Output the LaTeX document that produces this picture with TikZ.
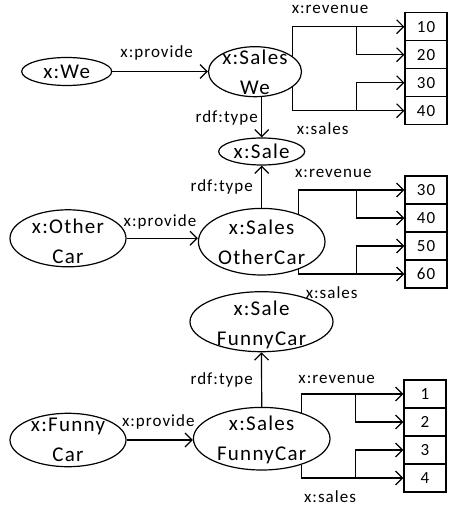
\documentclass[tikz,border=0pt]{standalone}
\usepackage{fontspec}
\setmainfont{Carlito}[LetterSpace=6]
\usetikzlibrary{arrows.meta,shapes.geometric}
\begin{document}
\begin{tikzpicture}[x=1pt,y=-1pt,line width=1.2pt,
  every node/.style={font=\fontsize{17}{20}\selectfont,inner sep=0pt},
  ell/.style={draw,ellipse,inner sep=0pt},
  txt/.style={align=center,font=\fontsize{21}{30}\selectfont},
  val/.style={draw,rectangle,minimum width=42pt,minimum height=28pt},
  arr/.style={-{Straight Barb[length=7pt,width=14pt]}}]
\useasboundingbox (0,0) rectangle (449,508);

% ---- x:We block ----
\node[ell,minimum width=90,minimum height=28] (we) at (66.7,71.5) {};
\node[txt] (wet) at (we) {x:We};
\node[ell,minimum width=93,minimum height=50] (sw) at (255,71.7) {};
\node[txt] (swt) at (255,72.5) {x:Sales\\We};
\node[ell,minimum width=86,minimum height=27] (sale) at (261.7,151.5) {};
\node[txt] (salet) at (sale) {x:Sale};
\node[val] (a1) at (426,26.7) {10};
\node[val] (a2) at (426,54.7) {20};
\node[val] (a3) at (426,82.7) {30};
\node[val] (a4) at (426,110.7) {40};

\draw[arr] (we.east) -- (we.east -| sw.west);
\draw[arr] (sale.north |- sw.south) -- (sale.north);
\draw[arr] (sw.22) |- (a1.west);
\path (a1.west) ++(-48,0) coordinate (ja);
\draw[arr] (ja) |- (a2.west);
\draw[arr] (sw.-22) |- (a4.west);
\path (a4.west) ++(-48,0) coordinate (jb);
\draw[arr] (jb) |- (a3.west);

\node (l1) at (156.7,53.3) {x:provide};
\node (l2) at (226.7,118.3) {rdf:type};
\node (l3) at (330,9.3) {x:revenue};
\node (l4) at (322.7,128.3) {x:sales};

% ---- x:OtherCar block ----
\node[ell,minimum width=116,minimum height=57] (oc) at (68,238.3) {};
\node[txt] (oct) at (68,241.7) {x:Other\\Car};
\node[ell,minimum width=126.6,minimum height=66.6] (so) at (261.7,241.7) {};
\node[txt] (sot) at (261.7,242.5) {x:Sales\\OtherCar};
\node[val] (b1) at (426,190) {30};
\node[val] (b2) at (426,218) {40};
\node[val] (b3) at (426,246) {50};
\node[val] (b4) at (426,274) {60};

\draw[arr] (oc.east) -- (oc.east -| so.west);
\draw[arr] (so.north) -- (sale.south);
\draw[arr] (so.37) |- (b1.west);
\path (b1.west) ++(-48.3,0) coordinate (jc);
\draw[arr] (jc) |- (b2.west);
\draw[arr] (so.-37) |- (b4.west);
\path (b4.west) ++(-48.3,0) coordinate (jd);
\draw[arr] (jd) |- (b3.west);

\node (m1) at (160,221.7) {x:provide};
\node (m2) at (221.7,187.3) {rdf:type};
\node (m3) at (333.3,173.3) {x:revenue};
\node (m4) at (331.7,292.7) {x:sales};

% ---- x:FunnyCar block ----
\node[ell,minimum width=143,minimum height=60] (sfc) at (261.5,321.7) {};
\node[txt] (sfct) at (261.5,325) {x:Sale\\FunnyCar};
\node[ell,minimum width=116,minimum height=53.4] (fc) at (68,440) {};
\node[txt] (fct) at (68,440) {x:Funny\\Car};
\node[ell,minimum width=136.6,minimum height=62.6] (sf) at (261.7,438.7) {};
\node[txt] (sft) at (261.7,440) {x:Sales\\FunnyCar};
\node[val] (c1) at (425,394) {1};
\node[val] (c2) at (425,422) {2};
\node[val] (c3) at (425,450) {3};
\node[val] (c4) at (425,478) {4};

\draw[arr] (fc.east) -- (fc.east -| sf.west);
\draw[arr] (sf.north) -- (sfc.south);
\draw[arr] (sf.33) |- (c1.west);
\path (c1.west) ++(-48,0) coordinate (je);
\draw[arr] (je) |- (c2.west);
\draw[arr] (sf.-33) |- (c4.west);
\path (c4.west) ++(-48,0) coordinate (jf);
\draw[arr] (jf) |- (c3.west);

\node (n1) at (158.3,421.7) {x:provide};
\node (n2) at (221.7,380) {rdf:type};
\node (n3) at (336.7,379.3) {x:revenue};
\node (n4) at (330,496.7) {x:sales};
\end{tikzpicture}
\end{document}
